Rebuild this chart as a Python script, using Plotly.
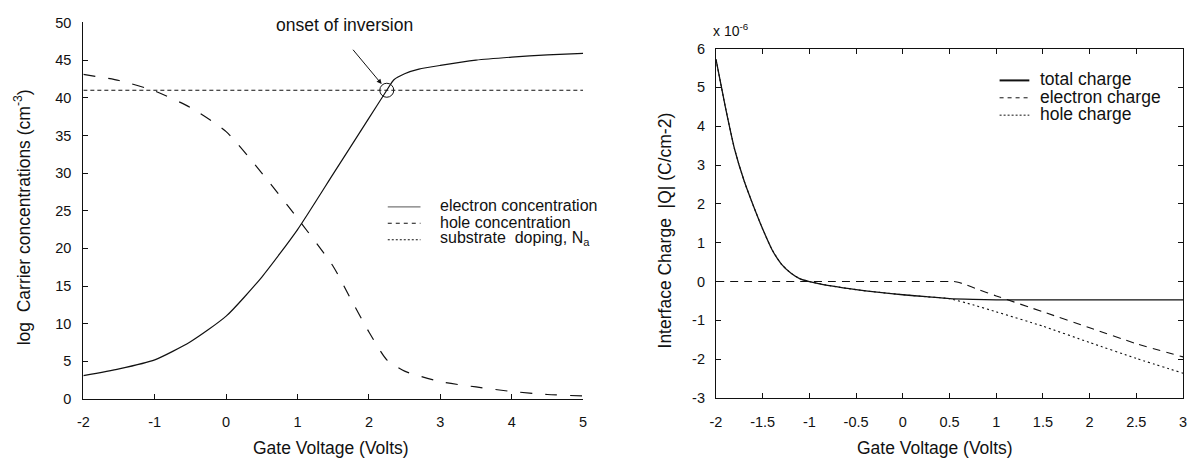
import plotly.graph_objects as go

# ---------------- data (left panel) ----------------
v_elec = [-2, -1.5, -1, -0.5, 0, 0.5, 1, 1.5, 2, 2.25, 2.35, 2.5, 2.7, 3, 3.5, 4, 4.5, 5]
log_elec = [3.1, 4.0, 5.2, 7.6, 11.0, 16.2, 22.5, 29.9, 37.3, 41.0, 42.4, 43.2, 43.8, 44.3, 45.0, 45.4, 45.7, 45.9]

v_hole = [-2, -1.5, -1, -0.5, 0, 0.5, 1, 1.5, 1.75, 2, 2.25, 2.5, 3, 3.5, 4, 4.5, 5]
log_hole = [43.1, 42.3, 40.9, 38.7, 35.5, 30.0, 24.0, 17.6, 13.2, 8.9, 5.2, 3.7, 2.3, 1.6, 1.0, 0.6, 0.4]

v_dop = [-2, 5]
log_dop = [41, 41]

onset_v = 2.25
onset_log = 41

# ---------------- data (right panel, units of 1e-6 C/cm^2) ----------------
v_total = [-2, -1.9, -1.8, -1.7, -1.6, -1.5, -1.4, -1.3, -1.2, -1.1, -1, -0.75, -0.5, -0.25, 0, 0.25, 0.5, 0.75, 1, 1.5, 2, 2.5, 3]
q_total = [5.72, 4.5, 3.4, 2.6, 1.95, 1.35, 0.82, 0.45, 0.22, 0.07, 0.0, -0.12, -0.21, -0.28, -0.34, -0.39, -0.44, -0.46, -0.47, -0.47, -0.47, -0.47, -0.47]

v_echg = [-2, -1, 0, 0.5, 0.55, 0.65, 0.8, 1, 1.5, 2, 2.5, 3]
q_echg = [0, 0, 0, 0, 0, -0.06, -0.2, -0.37, -0.78, -1.19, -1.6, -1.94]

v_hchg = [-2, -1.9, -1.8, -1.7, -1.6, -1.5, -1.4, -1.3, -1.2, -1.1, -1, -0.75, -0.5, -0.25, 0, 0.25, 0.5, 0.75, 1, 1.5, 2, 2.5, 3]
q_hchg = [5.72, 4.5, 3.4, 2.6, 1.95, 1.35, 0.82, 0.45, 0.22, 0.07, 0.0, -0.12, -0.21, -0.28, -0.34, -0.39, -0.44, -0.6, -0.78, -1.15, -1.57, -1.98, -2.36]

# ---------------- ticks ----------------
left_xticks = [-2, -1, 0, 1, 2, 3, 4, 5]
left_xticktext = ["-2", "-1", "0", "1", "2", "3", "4", "5"]
left_yticks = [0, 5, 10, 15, 20, 25, 30, 35, 40, 45, 50]
left_yticktext = ["0", "5", "10", "15", "20", "25", "30", "35", "40", "45", "50"]
right_xticks = [-2, -1.5, -1, -0.5, 0, 0.5, 1, 1.5, 2, 2.5, 3]
right_xticktext = ["-2", "-1.5", "-1", "-0.5", "0", "0.5", "1", "1.5", "2", "2.5", "3"]
right_yticks = [-3, -2, -1, 0, 1, 2, 3, 4, 5, 6]
right_yticktext = ["-3", "-2", "-1", "0", "1", "2", "3", "4", "5", "6"]

# ---------------- legend entries ----------------
left_legend_names = ["electron concentration", "hole concentration", "substrate\u00a0\u00a0doping, N<sub>a</sub>"]
left_legend_dash = ["solid", "4px,4px", "2px,2px"]
left_legend_color = ["#777777", "#111111", "#111111"]
right_legend_names = ["total charge", "electron charge", "hole charge"]
right_legend_dash = ["solid", "4px,4px", "2px,2px"]
right_legend_width = [2.0, 1.0, 1.0]

W, H = 1192, 463
FONT = "Liberation Sans, Arial, sans-serif"
INK = "#111111"


def px(x):
    return x / W


def py(y):
    return 1 - y / H


fig = go.Figure()

fig.add_trace(go.Scatter(x=v_elec, y=log_elec, mode="lines", name="electron concentration",
                         line=dict(color=INK, width=1.2, shape="spline", smoothing=0.6),
                         xaxis="x", yaxis="y"))
fig.add_trace(go.Scatter(x=v_hole, y=log_hole, mode="lines", name="hole concentration",
                         line=dict(color=INK, width=1.2, dash="12px,13px", shape="spline", smoothing=0.6),
                         xaxis="x", yaxis="y"))
fig.add_trace(go.Scatter(x=v_dop, y=log_dop, mode="lines", name="substrate doping",
                         line=dict(color=INK, width=1.1, dash="4px,3px"),
                         xaxis="x", yaxis="y"))

fig.add_trace(go.Scatter(x=v_hchg, y=q_hchg, mode="lines", name="hole charge",
                         line=dict(color=INK, width=1.1, dash="2px,3px", shape="spline", smoothing=0.5),
                         xaxis="x2", yaxis="y2"))
fig.add_trace(go.Scatter(x=v_echg, y=q_echg, mode="lines", name="electron charge",
                         line=dict(color=INK, width=1.1, dash="8px,6px", shape="spline", smoothing=0.5),
                         xaxis="x2", yaxis="y2"))
fig.add_trace(go.Scatter(x=v_total, y=q_total, mode="lines", name="total charge",
                         line=dict(color=INK, width=1.3, shape="spline", smoothing=0.5),
                         xaxis="x2", yaxis="y2"))

axis_common = dict(showline=True, linecolor=INK, linewidth=1.2, ticks="inside", ticklen=5,
                   tickcolor=INK, showgrid=False, zeroline=False, tickmode="array",
                   tickfont=dict(family=FONT, size=14.5, color=INK))

fig.update_layout(
    width=W, height=H,
    margin=dict(l=0, r=0, t=0, b=0),
    paper_bgcolor="white", plot_bgcolor="white",
    font=dict(family=FONT, size=13, color=INK),
    showlegend=False,
    xaxis=dict(domain=[px(78), px(582)], range=[-2, 5], tickvals=left_xticks, ticktext=left_xticktext,
               anchor="y", ticklabelstandoff=9, **axis_common),
    yaxis=dict(domain=[py(405), py(15)], range=[0, 50], tickvals=left_yticks, ticktext=left_yticktext,
               anchor="x", ticklabelstandoff=8, **axis_common),
    xaxis2=dict(domain=[px(716), px(1187)], range=[-2, 3], tickvals=right_xticks, ticktext=right_xticktext,
                anchor="y2", mirror="ticks", ticklabelstandoff=10, **axis_common),
    yaxis2=dict(domain=[py(404), py(42)], range=[-3, 6], tickvals=right_yticks, ticktext=right_yticktext,
                anchor="x2", mirror="ticks", ticklabelstandoff=7, **axis_common),
)

TITLE = dict(family=FONT, size=17.5, color=INK)


def label(text, x, y, font, angle=0, xanchor="center"):
    return dict(text=text, x=px(x), y=py(y), xref="paper", yref="paper", xanchor=xanchor,
                yanchor="middle", textangle=angle, showarrow=False, font=font)


annotations = [
    label("log\u00a0\u00a0Carrier concentrations (cm<sup>-3</sup>)", 16, 217, TITLE, angle=-90),
    label("Gate Voltage (Volts)", 328, 456, TITLE),
    label("Interface Charge\u00a0\u00a0|Q| (C/cm-2)", 665, 230, TITLE, angle=-90),
    label("Gate Voltage (Volts)", 937, 456, TITLE),
    label("x 10<sup>-6</sup>", 711, 23, dict(family=FONT, size=14, color=INK), xanchor="left"),
    label("onset of inversion", 341, 18, TITLE),
    dict(text="", x=onset_v, y=onset_log, xref="x", yref="y", showarrow=True, ax=-35, ay=-42,
         standoff=8, arrowhead=2, arrowsize=1, arrowwidth=1, arrowcolor=INK),
]

shapes = [dict(type="circle", xref="x", yref="y", xsizemode="pixel", ysizemode="pixel",
               xanchor=onset_v, yanchor=onset_log, x0=-7, x1=7, y0=-7, y1=7,
               line=dict(color=INK, width=1))]

# left legend (manual, for exact spacing)
for i, (name, dash, col) in enumerate(zip(left_legend_names, left_legend_dash, left_legend_color)):
    yy = 205 + 17 * i
    shapes.append(dict(type="line", xref="paper", yref="paper", x0=px(385), x1=px(418), y0=py(yy + 1), y1=py(yy + 1),
                       line=dict(color=col, width=1.1, dash=dash)))
    annotations.append(label(name, 436, yy, dict(family=FONT, size=16, color=INK), xanchor="left"))

# right legend
for i, (name, dash, wd) in enumerate(zip(right_legend_names, right_legend_dash, right_legend_width)):
    yy = 74 + 18 * i
    shapes.append(dict(type="line", xref="paper", yref="paper", x0=px(1002), x1=px(1032), y0=py(yy + 1), y1=py(yy + 1),
                       line=dict(color=INK, width=wd, dash=dash)))
    annotations.append(label(name, 1041, yy, dict(family=FONT, size=17.5, color=INK), xanchor="left"))

fig.update_layout(annotations=annotations, shapes=shapes)

fig.write_html("out.html")
